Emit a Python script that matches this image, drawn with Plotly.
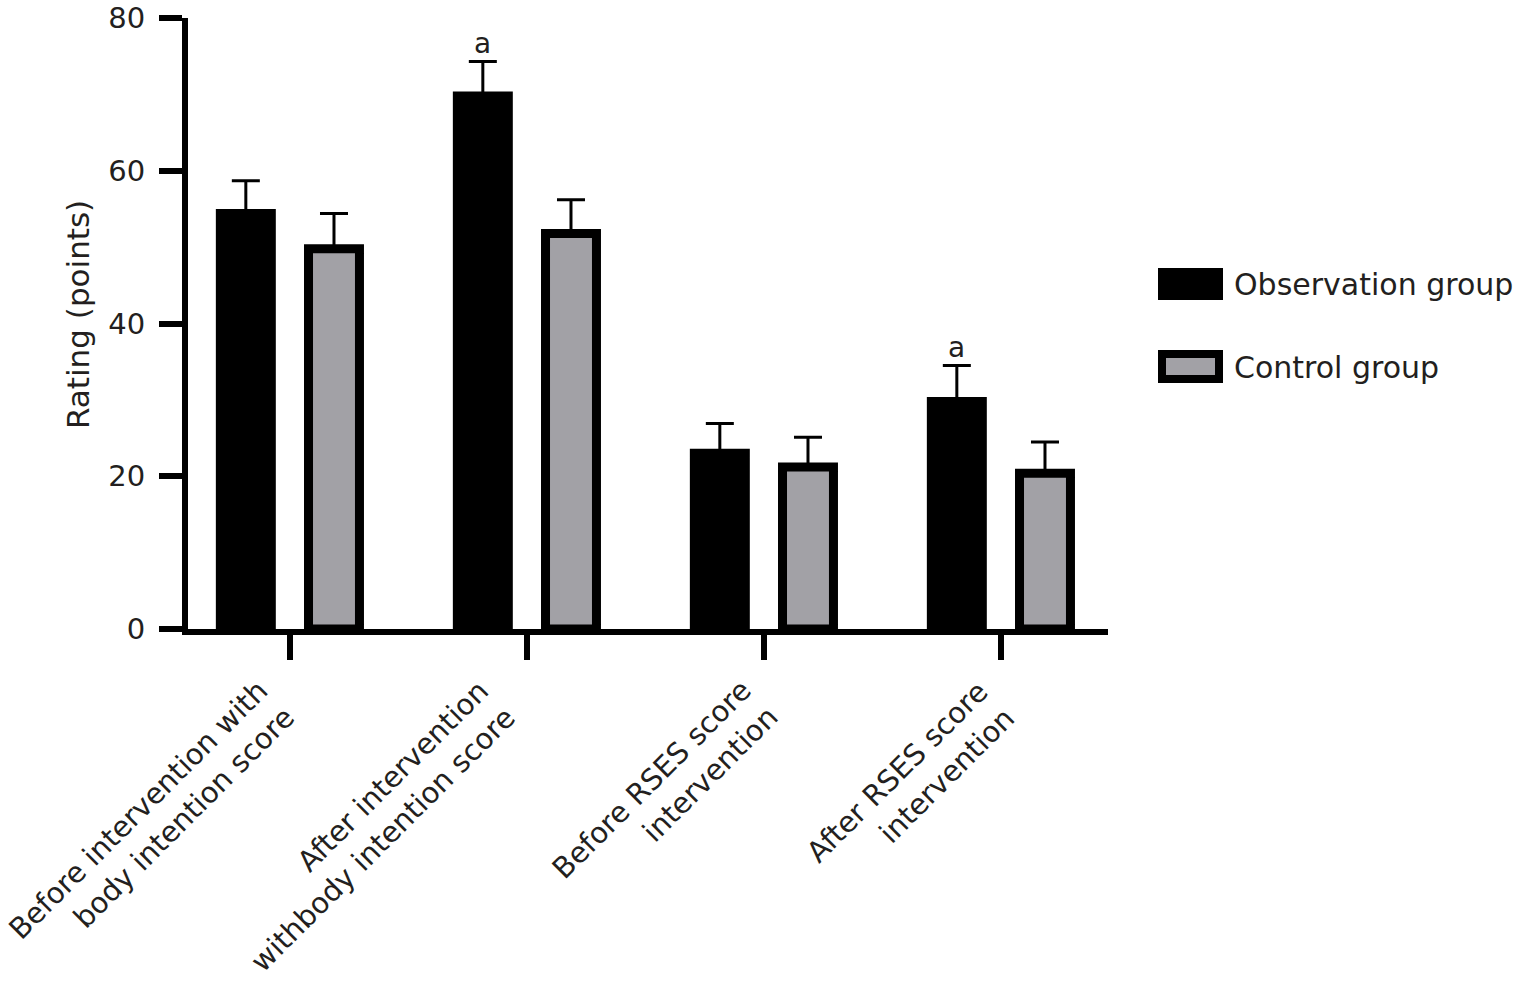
import plotly.graph_objects as go

categories = [
    "Before intervention with<br>body intention score",
    "After intervention<br>withbody intention score",
    "Before RSES score<br>intervention",
    "After RSES score<br>intervention",
]
obs_values = [54.4, 69.8, 23.0, 29.8]
obs_errors = [4.3, 4.5, 3.9, 4.7]
ctrl_values = [49.8, 51.8, 21.2, 20.4]
ctrl_errors = [4.6, 4.4, 3.9, 4.1]
series_names = ["Observation group", "Control group"]
significance = ["", "a", "", "a"]
y_ticks = [0, 20, 40, 60, 80]

W, H = 1521, 987
TOP, BOTTOM = 18, 629
PW, PH = 920, BOTTOM - TOP
L, T = 188, TOP
R, B = W - L - PW, H - T - PH


def px(x):
    return (x - L) / PW


def py(y):
    return (BOTTOM - y) / PH


TEXT = "#231f20"
GRAY = "#a2a1a6"
FONT = "DejaVu Sans"
xpos = list(range(len(categories)))
bw = 0.215
half = 0.186

fig = go.Figure()
fig.add_trace(go.Bar(
    x=xpos, y=obs_values, name=series_names[0],
    width=bw, offset=-half - bw / 2,
    marker=dict(color="black", line=dict(color="black", width=9)),
    error_y=dict(type="data", symmetric=False, array=obs_errors,
                 arrayminus=[0] * len(obs_errors),
                 color="black", thickness=3, width=14),
))
fig.add_trace(go.Bar(
    x=xpos, y=ctrl_values, name=series_names[1],
    width=bw, offset=half - bw / 2,
    marker=dict(color=GRAY, line=dict(color="black", width=9)),
    error_y=dict(type="data", symmetric=False, array=ctrl_errors,
                 arrayminus=[0] * len(ctrl_errors),
                 color="black", thickness=3, width=14),
))

annotations = []
for i, s in enumerate(significance):
    if s:
        annotations.append(dict(
            x=xpos[i] - half, y=obs_values[i] + obs_errors[i],
            xref="x", yref="y", text=s, showarrow=False,
            yanchor="bottom", xanchor="center", yshift=0,
            font=dict(family=FONT, size=28, color=TEXT)))

# rotated category labels (centre of each rotated block, relative to its tick)
label_xshift = [-138, -157, -99, -90]
label_ycenter = [823, 826, 793, 785]
for i, lab in enumerate(categories):
    annotations.append(dict(
        x=xpos[i], xref="x", xshift=label_xshift[i],
        y=py(label_ycenter[i]), yref="paper",
        text=lab, showarrow=False, textangle=-45, align="right",
        xanchor="center", yanchor="middle",
        font=dict(family=FONT, size=29, color=TEXT)))

# y-axis title, placed where the reference has it
annotations.append(dict(
    x=px(78), y=py(315), xref="paper", yref="paper",
    text="Rating (points)", showarrow=False, textangle=-90,
    xanchor="center", yanchor="middle",
    font=dict(family=FONT, size=31, color=TEXT)))

# manual legend
shapes = [
    dict(type="rect", xref="paper", yref="paper",
         x0=px(1158), x1=px(1223), y0=py(300), y1=py(268),
         fillcolor="black", line=dict(width=0)),
    dict(type="rect", xref="paper", yref="paper",
         x0=px(1162), x1=px(1219), y0=py(379), y1=py(354),
         fillcolor=GRAY, line=dict(color="black", width=8)),
]
for name, yc in zip(series_names, [284, 367]):
    annotations.append(dict(
        x=px(1232), y=py(yc), xref="paper", yref="paper",
        text=name, showarrow=False, xanchor="left", yanchor="middle",
        font=dict(family=FONT, size=30, color=TEXT)))

fig.update_layout(
    width=W, height=H,
    margin=dict(l=L, r=R, t=T, b=B, autoexpand=False),
    plot_bgcolor="white", paper_bgcolor="white",
    showlegend=False,
    barmode="group",
    font=dict(family=FONT, color=TEXT),
    shapes=shapes,
    annotations=annotations,
    xaxis=dict(
        range=[-0.430, -0.430 + PW / 237.0],
        tickvals=xpos, showticklabels=False,
        ticks="outside", ticklen=25, tickwidth=6, tickcolor="black",
        showline=True, linecolor="black", linewidth=6,
        showgrid=False, zeroline=False,
    ),
    yaxis=dict(
        range=[0, 80], tickvals=y_ticks,
        ticks="outside", ticklen=23, tickwidth=6, tickcolor="black",
        showline=True, linecolor="black", linewidth=6,
        showgrid=False, zeroline=False,
        tickfont=dict(family=FONT, size=29, color=TEXT),
        ticklabelstandoff=8, ticklabeloverflow="allow",
    ),
)

fig.write_html("out.html",
               config={"displayModeBar": False},
               post_script="document.body.style.margin='0';")
